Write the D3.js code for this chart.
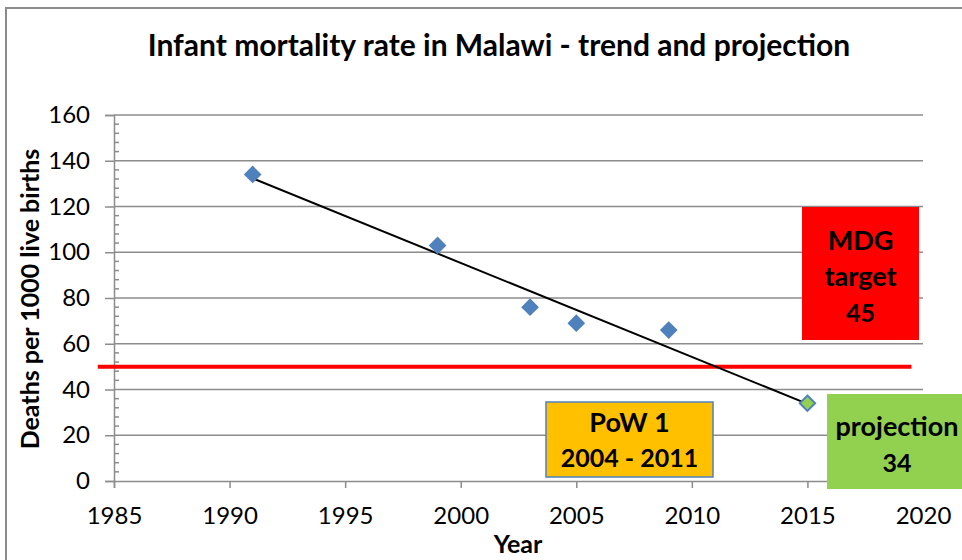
<!DOCTYPE html>
<html>
<head>
<meta charset="utf-8">
<script src="https://cdn.jsdelivr.net/npm/d3@7"></script>
<style>
  body { margin: 0; background: #fff; }
  text { font-family: Lato, "Open Sans", sans-serif; fill: #000; }
  .title { font-weight: bold; font-size: 30px; }
  .axis-title { font-weight: bold; font-size: 25px; }
  .tick text { font-size: 24px; }
  .box-label { font-weight: bold; font-size: 27px; }
  .box-label.num { font-size: 25px; }
</style>
</head>
<body>
<div id="chart"></div>
<script>
// observed infant mortality (deaths per 1000 live births)
var years = [1991, 1999, 2003, 2005, 2009];
var rates = [134, 103, 76, 69, 66];

// projected value
var projYear = 2015;
var projRate = 34;

// linear trend
var trendYears = [1991, 2015];
var trendRates = [132.3, 33.7];

// red reference line
var refLineYears = [1984.3, 2019.5];
var refLineRate = 50;

var xTicks = [1985, 1990, 1995, 2000, 2005, 2010, 2015, 2020];
var yTicks = [0, 20, 40, 60, 80, 100, 120, 140, 160];

var margin = { top: 115, left: 114, bottom: 79, right: 39 };
var W = 962, H = 560;
var width = W - margin.left - margin.right;
var height = H - margin.top - margin.bottom;

var root = d3.select("#chart").append("svg")
    .attr("width", W)
    .attr("height", H);

// outer frame (left and top visible)
root.append("path")
    .attr("d", "M6," + H + "V8H" + W)
    .attr("fill", "none")
    .attr("stroke", "#8c8c8c")
    .attr("stroke-width", 2);

root.append("text")
    .attr("class", "title")
    .attr("x", 499)
    .attr("y", 56)
    .attr("text-anchor", "middle")
    .text("Infant mortality rate in Malawi - trend and projection");

var svg = root.append("g")
    .attr("transform", "translate(" + margin.left + "," + margin.top + ")");

var x = d3.scaleLinear().domain([1985, 2020]).range([0, width]);
var y = d3.scaleLinear().domain([0, 160]).range([height, 0]);

// gridlines
svg.selectAll(".grid")
    .data(yTicks.slice(1))
    .enter().append("line")
    .attr("class", "grid")
    .attr("x1", 0)
    .attr("x2", width)
    .attr("y1", function (d) { return y(d); })
    .attr("y2", function (d) { return y(d); })
    .attr("stroke", "#8c8c8c")
    .attr("stroke-width", 1.5);

// y axis
var yAxis = d3.axisLeft(y)
    .tickValues(yTicks)
    .tickSize(9)
    .tickPadding(15)
    .tickFormat(d3.format("d"));
var gy = svg.append("g").attr("class", "y_axis").call(yAxis);
gy.select(".domain").attr("stroke", "#8c8c8c").attr("stroke-width", 1.5);
gy.selectAll(".tick line").attr("stroke", "#8c8c8c").attr("stroke-width", 1.5);

// minor y ticks, inside
var minor = d3.range(0, 161, 4).filter(function (d) { return d % 20 !== 0; });
svg.selectAll(".minor")
    .data(minor)
    .enter().append("line")
    .attr("class", "minor")
    .attr("x1", 0)
    .attr("x2", 5)
    .attr("y1", function (d) { return y(d); })
    .attr("y2", function (d) { return y(d); })
    .attr("stroke", "#8c8c8c")
    .attr("stroke-width", 1.5);

// x axis
var xAxis = d3.axisBottom(x)
    .tickValues(xTicks)
    .tickSize(7)
    .tickPadding(19)
    .tickFormat(d3.format("d"));
var gx = svg.append("g")
    .attr("class", "x_axis")
    .attr("transform", "translate(0," + height + ")")
    .call(xAxis);
gx.select(".domain").attr("stroke", "#8c8c8c").attr("stroke-width", 1.5);
gx.selectAll(".tick line").attr("stroke", "#8c8c8c").attr("stroke-width", 1.5);
root.selectAll(".tick text").attr("fill", "#000");

// axis titles
root.append("text")
    .attr("class", "axis-title")
    .attr("transform", "translate(39,299) rotate(-90)")
    .attr("text-anchor", "middle")
    .text("Deaths per 1000 live births");

root.append("text")
    .attr("class", "axis-title")
    .attr("x", 518)
    .attr("y", 553)
    .attr("text-anchor", "middle")
    .text("Year");

// red reference line
svg.append("line")
    .attr("x1", x(refLineYears[0]))
    .attr("x2", x(refLineYears[1]))
    .attr("y1", y(refLineRate))
    .attr("y2", y(refLineRate))
    .attr("stroke", "#ff0000")
    .attr("stroke-width", 4);

// trend line
svg.append("line")
    .attr("x1", x(trendYears[0]))
    .attr("x2", x(trendYears[1]))
    .attr("y1", y(trendRates[0]))
    .attr("y2", y(trendRates[1]))
    .attr("stroke", "#000")
    .attr("stroke-width", 2);

var diamond = d3.symbol().type(d3.symbolDiamond2).size(200);

svg.selectAll(".point")
    .data(years)
    .enter().append("path")
    .attr("class", "point")
    .attr("d", diamond)
    .attr("transform", function (d, i) {
        return "translate(" + x(d) + "," + y(rates[i]) + ")";
    })
    .attr("fill", "#4f81bd");

svg.append("path")
    .attr("d", d3.symbol().type(d3.symbolDiamond2).size(150))
    .attr("transform", "translate(" + x(projYear) + "," + y(projRate) + ")")
    .attr("fill", "#92d050")
    .attr("stroke", "#4f81bd")
    .attr("stroke-width", 2);

// text boxes
function box(x0, y0, w, h, fill, stroke, lines, lineY) {
    root.append("rect")
        .attr("x", x0).attr("y", y0)
        .attr("width", w).attr("height", h)
        .attr("fill", fill)
        .attr("stroke", stroke || "none")
        .attr("stroke-width", 1.5);
    lines.forEach(function (t, i) {
        root.append("text")
            .attr("class", /^[0-9 \-]+$/.test(t) ? "box-label num" : "box-label")
            .attr("x", x0 + w / 2)
            .attr("y", lineY[i])
            .attr("text-anchor", "middle")
            .text(t);
    });
}

box(802, 207, 117, 133, "#ff0000", null, ["MDG", "target", "45"], [250, 286, 322]);
box(546, 402, 167, 75, "#ffc000", "#4f81bd", ["PoW 1", "2004 - 2011"], [432, 467]);
box(827, 394, 140, 95, "#92d050", null, ["projection", "34"], [436, 472]);
</script>
</body>
</html>
